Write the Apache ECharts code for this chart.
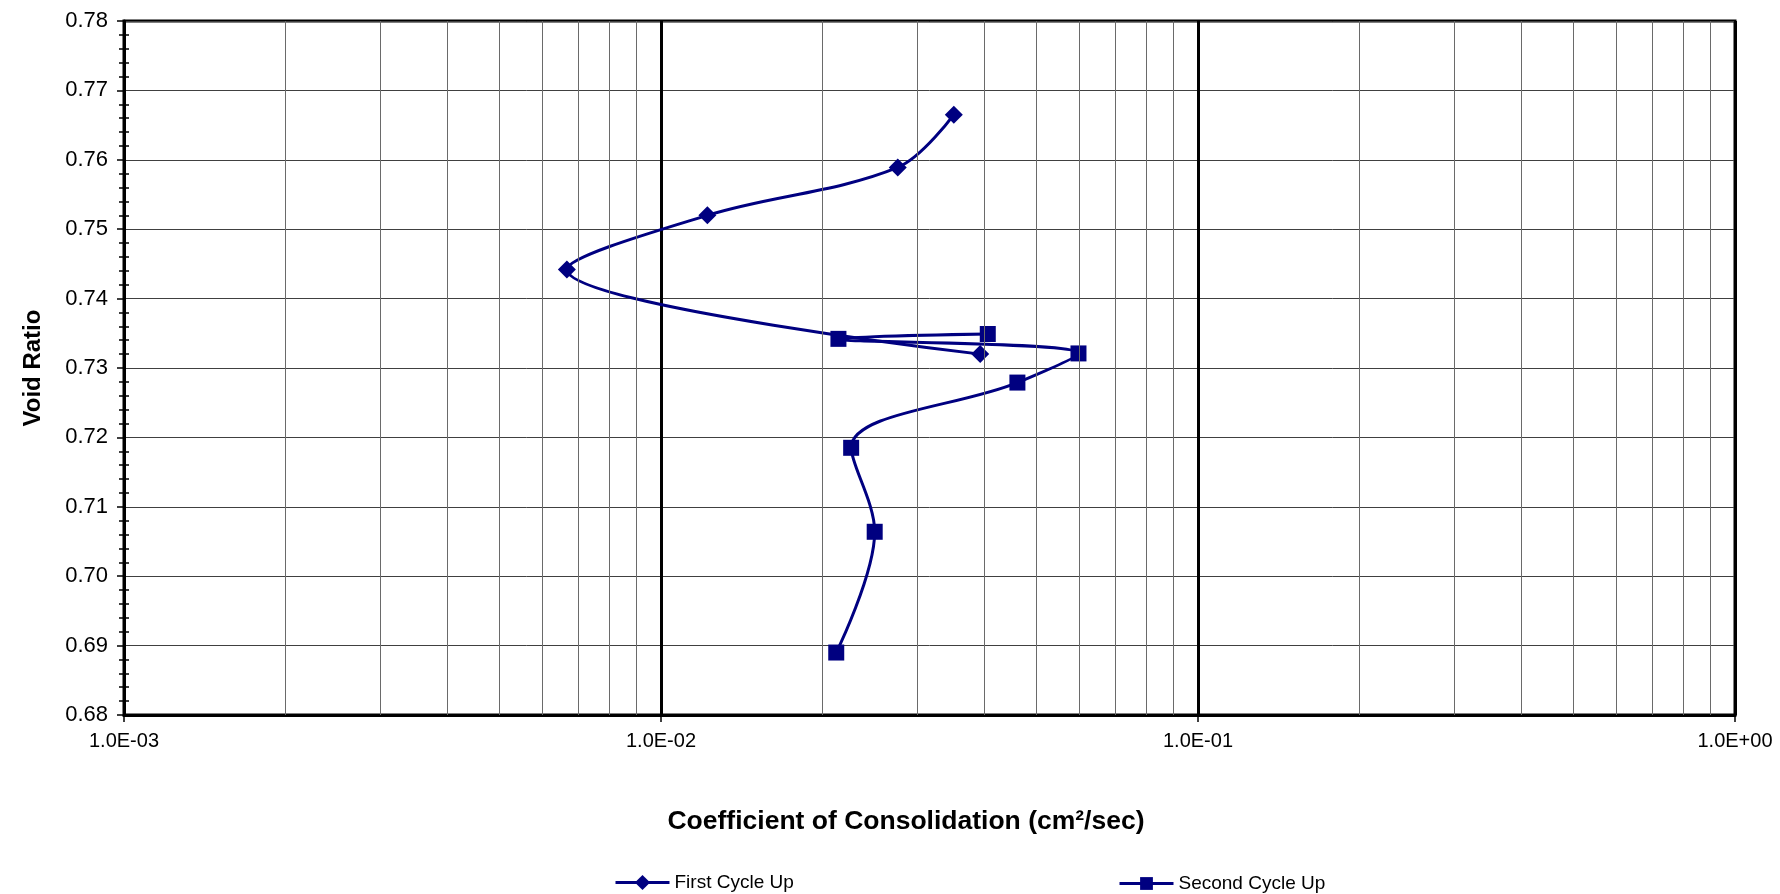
<!DOCTYPE html>
<html>
<head>
<meta charset="utf-8">
<title>Void Ratio vs Coefficient of Consolidation</title>
<script src="https://cdn.jsdelivr.net/npm/echarts@6/dist/echarts.min.js"></script>
<style>
    html, body { margin: 0; padding: 0; background: #fff; }
    #chart { width: 1780px; height: 894px; }
</style>
</head>
<body>
<div id="chart"></div>
<script>
// 数据
const firstCycleCv = [0.0351, 0.0276, 0.0122, 0.00668, 0.0393];
const firstCycleE = [0.7665, 0.7589, 0.7520, 0.7442, 0.7320];
const secondCycleCv = [0.0406, 0.0214, 0.0599, 0.0461, 0.0226, 0.0250, 0.0212];
const secondCycleE = [0.7349, 0.7342, 0.7321, 0.7279, 0.7185, 0.7064, 0.6890];

// 对数轴上的次网格线位置
const minorGridX = [
    0.002, 0.003, 0.004, 0.005, 0.006, 0.007, 0.008, 0.009,
    0.02, 0.03, 0.04, 0.05, 0.06, 0.07, 0.08, 0.09,
    0.2, 0.3, 0.4, 0.5, 0.6, 0.7, 0.8, 0.9
];

const navy = '#000080';
const font = '"Liberation Sans", Arial, sans-serif';

const pairs = (xs, ys) => xs.map((x, i) => [x, ys[i]]);

// 1.0E-02 这种格式
const sciLabel = (v) => {
    const exp = Math.round(Math.log10(v));
    const mant = v / Math.pow(10, exp);
    return mant.toFixed(1) + 'E' + (exp < 0 ? '-' : '+') + String(Math.abs(exp)).padStart(2, '0');
};

const legendText = { fontFamily: font, fontSize: 19, color: '#000' };

const chart = echarts.init(document.getElementById('chart'));
chart.setOption({
    animation: false,
    backgroundColor: '#fff',
    textStyle: { fontFamily: font, color: '#000' },
    grid: {
        left: 124, right: 45, top: 21, bottom: 179,
        show: true, borderColor: '#000', borderWidth: 3
    },
    legend: [
        {
            data: ['First Cycle Up'], left: 609, top: 868,
            itemWidth: 54, itemHeight: 19, itemGap: 5,
            lineStyle: { width: 3 },
            textStyle: legendText
        },
        {
            data: ['Second Cycle Up'], left: 1113, top: 869,
            itemWidth: 54, itemHeight: 16, itemGap: 5,
            lineStyle: { width: 3 },
            textStyle: legendText
        }
    ],
    xAxis: {
        type: 'log',
        logBase: 10,
        min: 0.001,
        max: 1,
        name: 'Coefficient of Consolidation (cm²/sec)',
        nameLocation: 'middle',
        nameGap: 93,
        nameTextStyle: { fontFamily: font, fontSize: 26.5, fontWeight: 'bold', color: '#000', padding: [0, 47, 0, 0] },
        axisLine: { show: true, lineStyle: { color: '#000', width: 3 } },
        axisTick: { show: true, length: 7, lineStyle: { color: '#000', width: 1.5 } },
        axisLabel: { margin: 16, fontSize: 20, color: '#000', formatter: sciLabel },
        splitLine: { show: true, lineStyle: { color: '#000', width: 3 } }
    },
    yAxis: [
        {
            type: 'value',
            min: 0.68,
            max: 0.78,
            interval: 0.01,
            name: 'Void Ratio',
            nameLocation: 'middle',
            nameGap: 79,
            nameRotate: 90,
            nameTextStyle: { fontFamily: font, fontSize: 24, fontWeight: 'bold', color: '#000' },
            axisLine: { show: true, lineStyle: { color: '#000', width: 3 } },
            axisTick: { show: true, length: 7, lineStyle: { color: '#000', width: 1.5 } },
            minorTick: { show: true, splitNumber: 5, length: 5, lineStyle: { color: '#000', width: 1.5 } },
            axisLabel: { margin: 16, fontSize: 22, color: '#000', formatter: (v) => v.toFixed(2) },
            splitLine: { show: true, lineStyle: { color: '#404040', width: 1 } }
        },
        {
            // 只用来画向内的次刻度
            type: 'value',
            position: 'left',
            min: 0.68,
            max: 0.78,
            interval: 0.01,
            axisLine: { show: false },
            axisTick: { show: false, inside: true },
            minorTick: { show: true, splitNumber: 5, length: 5, lineStyle: { color: '#000', width: 1.5 } },
            axisLabel: { show: false },
            splitLine: { show: false }
        }
    ],
    series: [
        {
            name: 'grid',
            type: 'line',
            data: [],
            z: 1,
            silent: true,
            markLine: {
                silent: true,
                precision: 6,
                symbol: 'none',
                label: { show: false },
                lineStyle: { color: '#6a6a6a', width: 1, type: 'solid' },
                data: minorGridX.map((v) => ({ xAxis: v }))
            }
        },
        {
            name: 'First Cycle Up',
            type: 'line',
            data: pairs(firstCycleCv, firstCycleE),
            smooth: 0.35,
            symbol: 'diamond',
            symbolSize: 18,
            z: 3,
            itemStyle: { color: navy },
            lineStyle: { color: navy, width: 3 }
        },
        {
            name: 'Second Cycle Up',
            type: 'line',
            data: pairs(secondCycleCv, secondCycleE),
            smooth: 0.35,
            symbol: 'rect',
            symbolSize: 16,
            z: 3,
            itemStyle: { color: navy },
            lineStyle: { color: navy, width: 3 }
        }
    ]
});

window.addEventListener('resize', () => chart.resize());
</script>
</body>
</html>
